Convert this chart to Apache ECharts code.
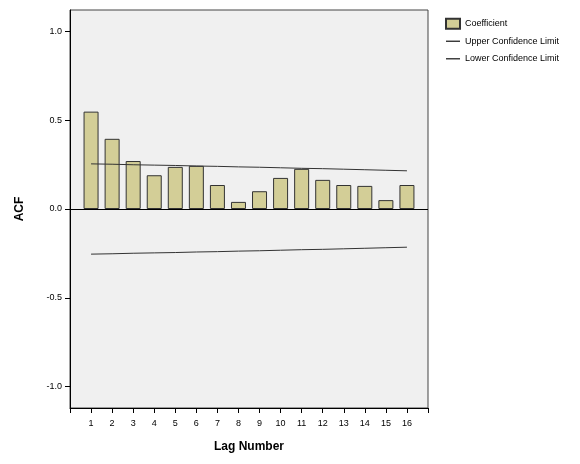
<!DOCTYPE html><html><head><script src="https://cdn.jsdelivr.net/npm/echarts@6/dist/echarts.min.js"></script></head><body style="margin:0;background:#fff"><div id="c" style="width:580px;height:464px"></div><script>
const lags=[1,2,3,4,5,6,7,8,9,10,11,12,13,14,15,16];
const coefficient=[0.548,0.395,0.27,0.19,0.237,0.243,0.135,0.04,0.10,0.175,0.226,0.164,0.135,0.13,0.05,0.135];
const upper=[0.254,0.252,0.249,0.247,0.245,0.242,0.240,0.237,0.235,0.232,0.229,0.227,0.224,0.221,0.218,0.215];
const lower=upper.map(v=>-v);
const yTicks=[-1.0,-0.5,0.0,0.5,1.0];
const ch=echarts.init(document.getElementById('c'));
const ls={color:'#333',width:1};
ch.setOption({animation:false,
grid:{left:70,right:152,top:10,bottom:56,show:true,backgroundColor:'#f0f0f0',borderColor:'#444',borderWidth:1},
legend:{orient:'vertical',left:440,top:11,itemGap:2,itemWidth:14,itemHeight:10,textStyle:{fontFamily:'Liberation Sans',fontSize:9,color:'#000',lineHeight:11},
 data:[{name:'Coefficient',icon:'rect'},{name:'Upper Confidence Limit',icon:'path://M0,4L20,4L20,6L0,6Z'},{name:'Lower Confidence Limit',icon:'path://M0,4L20,4L20,6L0,6Z'}]},
xAxis:{type:'value',min:0,max:17,interval:1,name:'Lag Number',nameLocation:'middle',nameGap:26,
 nameTextStyle:{fontFamily:'Liberation Sans',fontSize:12,fontWeight:'bold',color:'#000'},
 axisLine:{onZero:false,lineStyle:{color:'#000'}},axisTick:{show:true,lineStyle:{color:'#000'}},splitLine:{show:false},
 axisLabel:{fontFamily:'Liberation Sans',fontSize:9,color:'#000',formatter:v=>lags.includes(v)?String(v):''}},
yAxis:{type:'value',min:-1.12,max:1.12,name:'ACF',nameLocation:'middle',nameGap:40,
 nameTextStyle:{fontFamily:'Liberation Sans',fontSize:12,fontWeight:'bold',color:'#000'},
 axisLine:{show:true,lineStyle:{color:'#000'}},axisTick:{show:true,customValues:yTicks,lineStyle:{color:'#000'}},splitLine:{show:false},
 axisLabel:{customValues:yTicks,fontFamily:'Liberation Sans',fontSize:9,color:'#000',formatter:v=>v.toFixed(1)}},
series:[
{name:'Coefficient',type:'bar',data:lags.map((l,i)=>[l,coefficient[i]]),barWidth:15,itemStyle:{color:'#d3ce97',borderColor:'#333',borderWidth:1},
 markLine:{silent:true,symbol:'none',label:{show:false},lineStyle:{color:'#000',width:1,type:'solid'},data:[{yAxis:0}]}},
{name:'Upper Confidence Limit',type:'line',data:lags.map((l,i)=>[l,upper[i]]),symbol:'none',lineStyle:ls,itemStyle:{color:'#333'}},
{name:'Lower Confidence Limit',type:'line',data:lags.map((l,i)=>[l,lower[i]]),symbol:'none',lineStyle:ls,itemStyle:{color:'#333'}}
]});
</script></body></html>
